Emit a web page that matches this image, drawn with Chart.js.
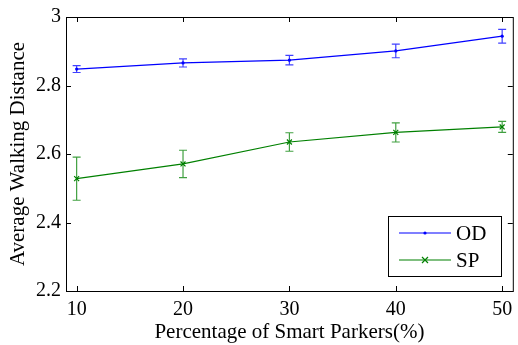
<!DOCTYPE html>
<html>
<head>
<meta charset="utf-8">
<script src="https://cdn.jsdelivr.net/npm/chart.js@4/dist/chart.umd.min.js"></script>
<style>
  html, body { margin: 0; padding: 0; background: #fff; }
  #wrap { width: 518px; height: 345px; }
</style>
</head>
<body>
<div id="wrap"><canvas id="walk-chart" width="518" height="345"></canvas></div>
<script>
// данные с картинки
const percents = [10, 20, 30, 40, 50];
const odValues = [2.848, 2.866, 2.874, 2.901, 2.944];
const odErrors = [0.010, 0.012, 0.014, 0.020, 0.020];
const spValues = [2.528, 2.571, 2.635, 2.663, 2.679];
const spErrors = [0.063, 0.040, 0.027, 0.028, 0.016];
const xTicks = [10, 20, 30, 40, 50];
const yTicks = [2.2, 2.4, 2.6, 2.8, 3];
const yTickLabels = ['2.2', '2.4', '2.6', '2.8', '3'];
const seriesNames = ['OD', 'SP'];

const serif = "'Liberation Serif', 'DejaVu Serif', serif";
const blue = '#0000ff';
const green = '#008000';

// рамка с засечками внутрь, как в матлабе
const boxTicks = {
  id: 'boxTicks',
  afterDraw(chart) {
    const { ctx, chartArea: { top, bottom, left, right }, scales: { x, y } } = chart;
    ctx.save();
    ctx.strokeStyle = '#000';
    ctx.lineWidth = 1;
    ctx.strokeRect(left + 0.5, top + 0.5, right - left, bottom - top);
    ctx.beginPath();
    xTicks.forEach(v => {
      const px = Math.round(x.getPixelForValue(v)) + 0.5;
      ctx.moveTo(px, bottom); ctx.lineTo(px, bottom - 5);
      ctx.moveTo(px, top); ctx.lineTo(px, top + 5);
    });
    yTicks.forEach(v => {
      const py = Math.round(y.getPixelForValue(v)) + 0.5;
      ctx.moveTo(left, py); ctx.lineTo(left + 5, py);
      ctx.moveTo(right, py); ctx.lineTo(right - 5, py);
    });
    ctx.stroke();
    ctx.restore();
  }
};

// усы погрешностей
const errorBars = {
  id: 'errorBars',
  afterDatasetsDraw(chart) {
    const { ctx, scales: { x, y } } = chart;
    const sets = [[odValues, odErrors, 'rgba(0,0,255,0.75)'], [spValues, spErrors, 'rgba(0,128,0,0.75)']];
    ctx.save();
    ctx.lineWidth = 1.2;
    sets.forEach(([vals, errs, color]) => {
      ctx.strokeStyle = color;
      ctx.beginPath();
      for (let i = 0; i < percents.length; i++) {
        const px = x.getPixelForValue(percents[i]);
        const y1 = y.getPixelForValue(vals[i] + errs[i]);
        const y2 = y.getPixelForValue(vals[i] - errs[i]);
        ctx.moveTo(px, y1); ctx.lineTo(px, y2);
        ctx.moveTo(px - 4, y1); ctx.lineTo(px + 4, y1);
        ctx.moveTo(px - 4, y2); ctx.lineTo(px + 4, y2);
      }
      ctx.stroke();
    });
    ctx.restore();
  }
};

// легенда в правом нижнем углу
const boxLegend = {
  id: 'boxLegend',
  afterDraw(chart) {
    const { ctx } = chart;
    const bx = 388.5, by = 216.5, bw = 113, bh = 60;
    ctx.save();
    ctx.fillStyle = '#fff';
    ctx.fillRect(bx, by, bw, bh);
    ctx.strokeStyle = '#000';
    ctx.lineWidth = 1;
    ctx.strokeRect(bx, by, bw, bh);
    const colors = [blue, green];
    const rows = [233, 260];
    ctx.font = '21px ' + serif;
    ctx.textBaseline = 'middle';
    for (let i = 0; i < seriesNames.length; i++) {
      ctx.strokeStyle = colors[i];
      ctx.lineWidth = 1.2;
      ctx.beginPath();
      ctx.moveTo(399, rows[i]); ctx.lineTo(451, rows[i]);
      ctx.stroke();
      if (i === 0) {
        ctx.fillStyle = colors[i];
        ctx.beginPath(); ctx.arc(425, rows[i], 1.6, 0, Math.PI * 2); ctx.fill();
      } else {
        ctx.beginPath();
        ctx.moveTo(422, rows[i] - 3); ctx.lineTo(428, rows[i] + 3);
        ctx.moveTo(428, rows[i] - 3); ctx.lineTo(422, rows[i] + 3);
        ctx.stroke();
      }
      ctx.fillStyle = '#000';
      ctx.fillText(seriesNames[i], 456, rows[i] + 1);
    }
    ctx.restore();
  }
};

let walkCanvas = document.getElementById('walk-chart').getContext('2d');
let walkConfig = {
  type: 'line',
  data: {
    datasets: [
      {
        label: seriesNames[0],
        data: percents.map((p, i) => ({ x: p, y: odValues[i] })),
        borderColor: blue,
        backgroundColor: blue,
        borderWidth: 1.2,
        pointStyle: 'circle',
        pointRadius: 1.6,
        pointBorderWidth: 0,
        tension: 0
      },
      {
        label: seriesNames[1],
        data: percents.map((p, i) => ({ x: p, y: spValues[i] })),
        borderColor: green,
        backgroundColor: green,
        borderWidth: 1.2,
        pointStyle: 'crossRot',
        pointRadius: 3.5,
        pointBorderWidth: 1.2,
        tension: 0
      }
    ]
  },
  options: {
    responsive: false,
    animation: false,
    layout: { padding: { left: 0, top: 15, right: 1, bottom: 0 } },
    scales: {
      x: {
        type: 'linear',
        min: 9,
        max: 51,
        afterBuildTicks: (scale) => { scale.ticks = xTicks.map(v => ({ value: v })); },
        afterFit: (scale) => { scale.height = 54; scale.paddingRight = 0; scale.paddingLeft = 0; },
        grid: { display: false, drawTicks: false },
        border: { display: false },
        ticks: {
          color: '#000',
          padding: 7,
          maxRotation: 0,
          font: { family: serif, size: 20 },
          callback: (v) => String(v)
        },
        title: {
          display: true,
          text: 'Percentage of Smart Parkers(%)',
          color: '#000',
          font: { family: serif, size: 21 },
          padding: { top: 0, bottom: 0 }
        }
      },
      y: {
        min: 2.2,
        max: 3,
        afterBuildTicks: (scale) => { scale.ticks = yTicks.map(v => ({ value: v })); },
        afterFit: (scale) => { scale.width = 66; },
        grid: { display: false, drawTicks: false },
        border: { display: false },
        ticks: {
          color: '#000',
          padding: 5,
          font: { family: serif, size: 20 },
          callback: (v) => yTickLabels[yTicks.indexOf(v)] ?? ''
        },
        title: {
          display: true,
          text: 'Average Walking Distance',
          color: '#000',
          font: { family: serif, size: 21 },
          padding: { top: 6, bottom: 0 }
        }
      }
    },
    plugins: {
      legend: { display: false },
      tooltip: { enabled: false }
    }
  },
  plugins: [errorBars, boxTicks, boxLegend]
};
let walkChart = new Chart(walkCanvas, walkConfig);
</script>
</body>
</html>
